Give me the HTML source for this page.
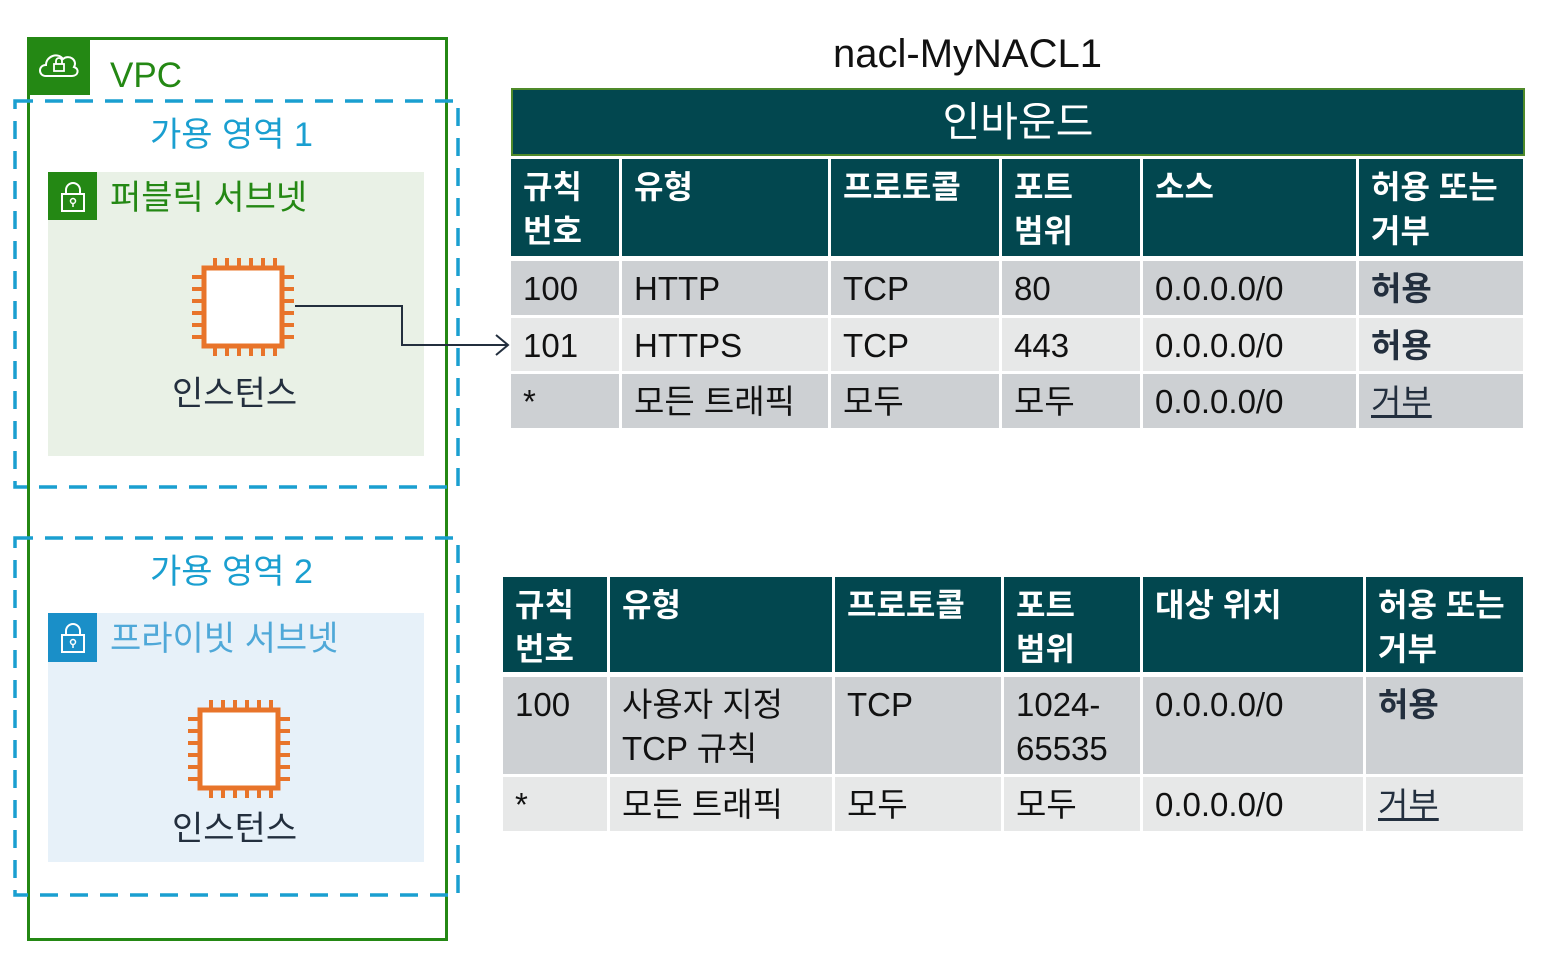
<!DOCTYPE html>
<html><head><meta charset="utf-8"><style>
body{margin:0;width:1546px;height:954px;background:#fff;position:relative;overflow:hidden;font-family:"Liberation Sans","Noto Sans CJK KR",sans-serif}
.a{position:absolute;box-sizing:border-box}
.t{position:absolute;white-space:nowrap;line-height:1}
.h{background:#02474F;color:#fff;font-size:32px;line-height:44px;padding:6px 0 0 12px;font-weight:bold}
.c{color:#111;font-size:33px;line-height:44px;padding:6px 0 0 12px}
.g{background:#CDD0D3}.l{background:#E7E8E8}
.b{font-weight:bold;color:#232F3E}
</style></head><body>
<!-- VPC -->
<div class="a" style="left:27px;top:37px;width:421px;height:904px;border:3px solid #248814"></div>
<div class="a" style="left:27px;top:37px;width:63px;height:58px;background:#248814"></div>
<svg class="a" style="left:36px;top:48px" width="46" height="34" viewBox="0 0 46 34"><path d="M10 28 C2 28 2 17 10 17 C10 8 22 4 27 11 C33 6 42 12 38 19 C44 21 42 28 36 28 Z" fill="none" stroke="#fff" stroke-width="2"/><rect x="18" y="16" width="10" height="7" fill="none" stroke="#fff" stroke-width="1.8"/><path d="M20 16 v-3 a3 3 0 0 1 6 0 v3" fill="none" stroke="#fff" stroke-width="1.8"/></svg>
<div class="t" style="left:110px;top:58px;font-size:35px;color:#248814">VPC</div>
<!-- dashed AZ boxes -->
<svg class="a" style="left:0;top:0" width="470" height="954"><g fill="none" stroke="#1A9FD0" stroke-width="3.5" stroke-dasharray="18 12"><rect x="15" y="101" width="443" height="386"/><rect x="15" y="538" width="443" height="357"/></g></svg>
<div class="t" style="left:150px;top:118px;font-size:34px;color:#1A9FD0">가용 영역 1</div>
<div class="a" style="left:48px;top:172px;width:376px;height:284px;background:#E9F1E6"></div>
<div class="a" style="left:48px;top:172px;width:49px;height:48px;background:#248814"></div>
<svg class="a" style="left:60px;top:180px" width="26" height="34" viewBox="0 0 26 34"><rect x="2" y="14" width="22" height="17" fill="none" stroke="#fff" stroke-width="2"/><path d="M6 14 v-4 a7 7 0 0 1 14 0 v4" fill="none" stroke="#fff" stroke-width="2"/><circle cx="13" cy="21" r="2.5" fill="none" stroke="#fff" stroke-width="1.5"/><line x1="13" y1="23" x2="13" y2="27" stroke="#fff" stroke-width="1.5"/></svg>
<div class="t" style="left:110px;top:181px;font-size:34px;color:#248814">퍼블릭 서브넷</div>
<svg class="a" style="left:190px;top:255px" width="106" height="104" viewBox="0 0 106 104"><g stroke="#E8742A" stroke-width="4"><rect x="14" y="13" width="78" height="78" fill="#fff" stroke-width="5"/><path d="M25 3v10M37 3v10M49 3v10M61 3v10M73 3v10M85 3v10M25 91v10M37 91v10M49 91v10M61 91v10M73 91v10M85 91v10M2 22h12M2 34h12M2 46h12M2 58h12M2 70h12M2 82h12M92 22h12M92 34h12M92 46h12M92 58h12M92 70h12M92 82h12"/></g></svg>
<div class="t" style="left:172px;top:377px;font-size:34px;color:#232F3E">인스턴스</div>
<svg class="a" style="left:0;top:0" width="520" height="400"><path d="M295 306H402V345H508" fill="none" stroke="#232F3E" stroke-width="2"/><path d="M496 335L508 345L496 355" fill="none" stroke="#232F3E" stroke-width="2"/></svg>
<!-- AZ2 -->
<div class="t" style="left:150px;top:555px;font-size:34px;color:#1A9FD0">가용 영역 2</div>
<div class="a" style="left:48px;top:613px;width:376px;height:249px;background:#E7F1F9"></div>
<div class="a" style="left:48px;top:613px;width:49px;height:49px;background:#1A8FC8"></div>
<svg class="a" style="left:60px;top:621px" width="26" height="34" viewBox="0 0 26 34"><rect x="2" y="14" width="22" height="17" fill="none" stroke="#fff" stroke-width="2"/><path d="M6 14 v-4 a7 7 0 0 1 14 0 v4" fill="none" stroke="#fff" stroke-width="2"/><circle cx="13" cy="21" r="2.5" fill="none" stroke="#fff" stroke-width="1.5"/><line x1="13" y1="23" x2="13" y2="27" stroke="#fff" stroke-width="1.5"/></svg>
<div class="t" style="left:110px;top:622px;font-size:34px;color:#4FA8D8">프라이빗 서브넷</div>
<svg class="a" style="left:186px;top:697px" width="106" height="104" viewBox="0 0 106 104"><g stroke="#E8742A" stroke-width="4"><rect x="14" y="13" width="78" height="78" fill="#fff" stroke-width="5"/><path d="M25 3v10M37 3v10M49 3v10M61 3v10M73 3v10M85 3v10M25 91v10M37 91v10M49 91v10M61 91v10M73 91v10M85 91v10M2 22h12M2 34h12M2 46h12M2 58h12M2 70h12M2 82h12M92 22h12M92 34h12M92 46h12M92 58h12M92 70h12M92 82h12"/></g></svg>
<div class="t" style="left:172px;top:812px;font-size:34px;color:#232F3E">인스턴스</div>
<!-- Title -->
<div class="t" style="left:833px;top:34px;font-size:40px;color:#111">nacl-MyNACL1</div>
<div class="a" style="left:511px;top:88px;width:1014px;height:68px;background:#02474F;border:2px solid #4F8A2A;color:#fff;font-size:41px;text-align:center;line-height:64px">인바운드</div>
<!-- Table 1 header -->
<div class="a h" style="left:511px;top:159px;width:108px;height:97px">규칙<br>번호</div>
<div class="a h" style="left:622px;top:159px;width:206px;height:97px">유형</div>
<div class="a h" style="left:831px;top:159px;width:168px;height:97px">프로토콜</div>
<div class="a h" style="left:1002px;top:159px;width:138px;height:97px">포트<br>범위</div>
<div class="a h" style="left:1143px;top:159px;width:213px;height:97px">소스</div>
<div class="a h" style="left:1359px;top:159px;width:164px;height:97px">허용 또는<br>거부</div>
<!-- rows -->
<div class="a c g" style="left:511px;top:261px;width:108px;height:54px">100</div>
<div class="a c g" style="left:622px;top:261px;width:206px;height:54px">HTTP</div>
<div class="a c g" style="left:831px;top:261px;width:168px;height:54px">TCP</div>
<div class="a c g" style="left:1002px;top:261px;width:138px;height:54px">80</div>
<div class="a c g" style="left:1143px;top:261px;width:213px;height:54px">0.0.0.0/0</div>
<div class="a c g b" style="left:1359px;top:261px;width:164px;height:54px">허용</div>
<div class="a c l" style="left:511px;top:318px;width:108px;height:53px">101</div>
<div class="a c l" style="left:622px;top:318px;width:206px;height:53px">HTTPS</div>
<div class="a c l" style="left:831px;top:318px;width:168px;height:53px">TCP</div>
<div class="a c l" style="left:1002px;top:318px;width:138px;height:53px">443</div>
<div class="a c l" style="left:1143px;top:318px;width:213px;height:53px">0.0.0.0/0</div>
<div class="a c l b" style="left:1359px;top:318px;width:164px;height:53px">허용</div>
<div class="a c g" style="left:511px;top:374px;width:108px;height:54px">*</div>
<div class="a c g" style="left:622px;top:374px;width:206px;height:54px">모든 트래픽</div>
<div class="a c g" style="left:831px;top:374px;width:168px;height:54px">모두</div>
<div class="a c g" style="left:1002px;top:374px;width:138px;height:54px">모두</div>
<div class="a c g" style="left:1143px;top:374px;width:213px;height:54px">0.0.0.0/0</div>
<div class="a c g" style="left:1359px;top:374px;width:164px;height:54px;color:#232F3E"><u>거부</u></div>
<!-- Table 2 header -->
<div class="a h" style="left:503px;top:577px;width:104px;height:95px">규칙<br>번호</div>
<div class="a h" style="left:610px;top:577px;width:222px;height:95px">유형</div>
<div class="a h" style="left:835px;top:577px;width:166px;height:95px">프로토콜</div>
<div class="a h" style="left:1004px;top:577px;width:136px;height:95px">포트<br>범위</div>
<div class="a h" style="left:1143px;top:577px;width:220px;height:95px">대상 위치</div>
<div class="a h" style="left:1366px;top:577px;width:157px;height:95px">허용 또는<br>거부</div>
<div class="a c g" style="left:503px;top:677px;width:104px;height:97px">100</div>
<div class="a c g" style="left:610px;top:677px;width:222px;height:97px">사용자 지정<br>TCP 규칙</div>
<div class="a c g" style="left:835px;top:677px;width:166px;height:97px">TCP</div>
<div class="a c g" style="left:1004px;top:677px;width:136px;height:97px">1024-<br>65535</div>
<div class="a c g" style="left:1143px;top:677px;width:220px;height:97px">0.0.0.0/0</div>
<div class="a c g b" style="left:1366px;top:677px;width:157px;height:97px">허용</div>
<div class="a c l" style="left:503px;top:777px;width:104px;height:54px">*</div>
<div class="a c l" style="left:610px;top:777px;width:222px;height:54px">모든 트래픽</div>
<div class="a c l" style="left:835px;top:777px;width:166px;height:54px">모두</div>
<div class="a c l" style="left:1004px;top:777px;width:136px;height:54px">모두</div>
<div class="a c l" style="left:1143px;top:777px;width:220px;height:54px">0.0.0.0/0</div>
<div class="a c l" style="left:1366px;top:777px;width:157px;height:54px;color:#232F3E"><u>거부</u></div>
</body></html>
